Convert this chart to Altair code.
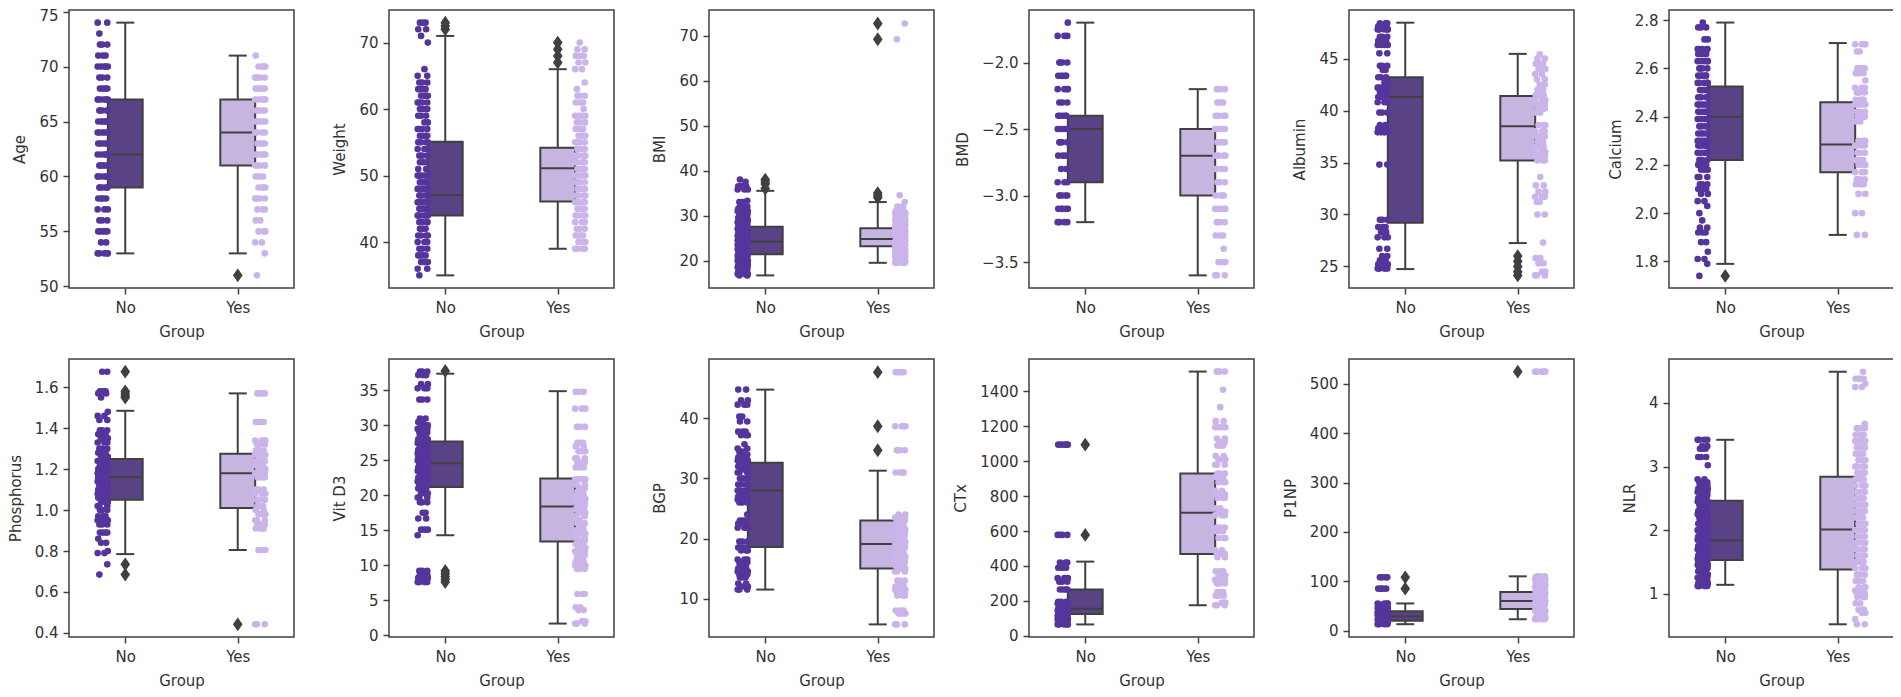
import altair as alt
import pandas as pd

GROUP_POS = {"No": 0, "Yes": 1}
FONT = "DejaVu Sans"
TEXT = "#333333"
LINE = "#404040"
FILL = {"No": "#5a4287", "Yes": "#c6b5e1"}
DOT = {"No": "#55359c", "Yes": "#cab4e9"}
JITTER = [-0.03, 0.04, -0.045, 0.015, 0.045, -0.015, 0.03, -0.04, 0.0, 0.025, -0.025, 0.04, -0.005]

age_no_v = [53,54,55,56,57,58,59,60,61,62,63,64,65,66,67,68,69,70,71,72,73,74]
age_no_c = [5,2,5,3,3,4,6,6,6,6,5,6,5,5,6,4,3,5,3,3,1,2]
age_yes_v = [51,53,54,55,56,57,58,59,60,61,62,63,64,65,66,67,68,69,70,71]
age_yes_c = [1,1,2,3,2,3,4,4,4,5,5,5,4,5,5,6,5,4,4,1]

wt_no_v = [35,36,37,38,39,40,41,42,43,44,45,46,47,48,49,50,51,52,53,54,55,56,57,58,59,60,61,62,63,64,65,66,70,71,72,73]
wt_no_c = [1,2,4,4,3,3,4,3,4,6,7,7,6,6,5,6,2,3,3,3,4,4,4,2,3,4,4,4,4,3,2,1,1,1,2,3]
wt_yes_v = [39,40,41,42,43,44,45,46,47,48,49,50,51,52,53,54,55,56,57,58,59,60,61,62,63,64,66,67,68,69,70]
wt_yes_c = [4,3,4,3,3,4,4,5,4,4,4,5,5,4,4,4,4,4,4,4,4,1,3,3,1,1,2,2,4,2,1]

bmi_no_v = [16.7,17,17.5,18,18.5,19,19.5,20,20.5,21,21.5,22,22.5,23,23.5,24,24.5,25,25.5,26,26.5,27,27.5,28,28.5,29,29.5,30,30.5,31,31.5,32,33,33.3,35.8,36.5,37.5,38]
bmi_no_c = [2,3,3,4,5,5,4,5,5,6,6,6,6,6,6,6,6,6,5,5,5,5,4,4,3,3,3,3,2,3,3,4,2,1,3,4,1,1]
bmi_yes_v = [19.5,20,20.5,21,21.5,22,22.5,23,23.5,24,24.5,25,25.5,26,26.5,27,27.5,28,28.5,29,29.5,30,30.5,31,32,33,34.5,69.2,72.7]
bmi_yes_c = [4,5,5,5,6,6,6,6,6,6,6,6,6,6,6,5,5,5,5,5,5,4,4,3,2,1,1,1,1]

bmd_no_v = [-3.2,-3.1,-3.0,-2.9,-2.8,-2.7,-2.6,-2.5,-2.4,-2.3,-2.2,-2.1,-2.0,-1.8,-1.7]
bmd_no_c = [4,5,5,3,3,3,4,5,5,3,4,5,4,3,1]
bmd_yes_v = [-3.6,-3.5,-3.4,-3.3,-3.2,-3.1,-3.0,-2.9,-2.8,-2.7,-2.6,-2.5,-2.4,-2.3,-2.2]
bmd_yes_c = [3,3,1,3,4,5,4,3,4,4,4,5,4,3,3]

alb_no_v = [24.8,25.2,25.6,26,26.7,27.8,28.3,28.8,29.5,34.8,37.9,38.3,38.6,39.8,40.8,41.3,41.8,42.2,42.7,43.2,43.9,44.3,45.5,46.3,46.7,47.1,47.8,48.1,48.4]
alb_no_c = [4,4,3,2,2,3,2,3,3,2,4,3,2,3,4,4,3,4,2,3,2,3,2,4,4,3,5,4,3]
alb_yes_v = [24.14,24.5,25.3,25.8,27.3,30,31.2,31.7,32.2,32.8,33.6,35.2,35.6,36,36.5,37,37.5,38,38.6,39.8,40.2,40.6,41,41.5,42,42.5,43,43.5,44,44.5,45,45.4]
alb_yes_c = [3,2,2,2,1,2,2,3,2,2,1,3,3,3,3,3,3,3,3,2,3,3,3,3,3,2,2,2,3,3,2,1]

ca_no_v = [1.74,1.79,1.81,1.84,1.88,1.92,1.94,1.97,2.0,2.03,2.05,2.08,2.1,2.12,2.15,2.18,2.2,2.22,2.25,2.28,2.3,2.33,2.36,2.39,2.42,2.45,2.48,2.51,2.54,2.57,2.6,2.63,2.66,2.68,2.72,2.77,2.79]
ca_no_c = [1,1,2,1,2,3,2,1,1,1,2,2,4,3,3,3,4,4,5,6,5,5,5,5,6,5,4,5,5,5,4,5,5,5,2,3,1]
ca_yes_v = [1.91,2.0,2.08,2.12,2.14,2.17,2.2,2.22,2.25,2.28,2.3,2.38,2.4,2.42,2.45,2.47,2.5,2.52,2.55,2.58,2.6,2.67,2.7]
ca_yes_c = [2,2,2,4,4,3,3,3,3,4,3,2,3,3,4,4,4,3,1,3,4,2,4]

ph_no_v = [.685,.735,.79,.8,.84,.86,.89,.93,.95,.97,1.0,1.02,1.04,1.06,1.08,1.1,1.12,1.14,1.16,1.18,1.2,1.22,1.24,1.26,1.28,1.3,1.33,1.35,1.37,1.39,1.44,1.46,1.48,1.55,1.57,1.58,1.676]
ph_no_c = [1,1,2,1,2,1,4,3,5,3,3,3,4,4,5,5,6,5,5,5,5,4,4,4,4,3,3,3,3,3,2,2,1,1,2,3,2]
ph_yes_v = [.442,.805,.91,.93,.95,.98,1.0,1.02,1.05,1.08,1.1,1.16,1.18,1.2,1.22,1.24,1.27,1.29,1.32,1.34,1.43,1.57]
ph_yes_c = [3,3,4,3,3,3,2,3,4,3,3,4,4,4,4,4,4,4,4,4,4,4]

vd_no_v = [7.6,8.2,8.6,9.2,14.3,15.1,16.7,17.5,19,19.7,20.3,21,21.5,22,22.5,23,23.5,24,24.5,25,25.5,26,26.5,27,27.5,28,28.5,29,29.5,30,30.5,31,33.7,35.3,35.9,37.2,37.7]
vd_no_c = [4,4,4,3,1,3,2,2,3,3,3,4,4,4,4,4,5,5,5,5,5,5,5,4,4,4,3,3,3,3,2,2,3,3,2,4,3]
vd_yes_v = [1.67,2,3.6,4,5.9,9.5,10,10.5,11,11.5,12,12.5,13,13.5,14,14.5,15,15.5,16,16.5,17,17.5,18,18.5,19,19.5,20,20.5,21,21.5,22.3,24,24.7,25.3,26.3,27,27.5,29.8,32.4,34.8]
vd_yes_c = [3,2,2,2,3,3,3,3,3,3,3,3,3,3,2,3,3,2,2,2,2,3,3,3,3,3,3,3,2,2,4,3,4,3,3,2,3,4,3,3]

bgp_no_v = [11.5,12,12.5,13.5,14,14.5,15,15.5,16,16.5,18,18.5,19.5,21.8,22.5,23,24,26,26.5,27,27.5,28,29,30,31,31.5,32,32.5,33,33.5,34,34.5,35,35.7,37.2,37.8,39.5,40.3,42.3,43,44.8]
bgp_no_c = [3,3,2,3,3,4,3,3,3,3,3,4,3,4,3,3,1,3,3,4,4,4,4,5,3,3,4,4,4,3,4,2,2,1,3,3,2,2,3,2,2]
bgp_yes_v = [5.7,7.5,8,10.5,11,11.5,12,12.5,13,14.5,15,15.5,16,16.5,17,17.5,18,18.5,19,19.5,20,20.5,21,21.5,22,22.5,23,23.5,24,31,34.7,38.7,47.7]
bgp_yes_c = [3,3,3,3,3,3,3,2,3,3,3,3,3,3,3,3,3,3,2,3,3,3,3,3,3,3,3,3,2,4,4,4,4]

ctx_no_v = [65,75,85,95,105,115,125,135,145,155,165,175,185,195,265,310,330,390,420,578,1095]
ctx_no_c = [5,5,5,5,5,5,4,5,4,4,4,3,3,3,4,3,3,4,3,4,5]
ctx_yes_v = [175,190,230,250,300,320,345,370,450,470,490,560,600,620,690,710,730,790,810,830,880,910,930,980,1010,1030,1090,1110,1130,1195,1230,1310,1410,1514]
ctx_yes_c = [3,2,3,3,3,3,3,3,2,3,2,3,4,3,3,3,2,3,3,2,3,3,3,3,3,2,3,2,2,4,2,1,1,4]

p1_no_v = [13,16,19,22,25,28,31,34,37,40,43,46,49,52,55,85,108]
p1_no_c = [4,4,5,5,5,5,5,5,5,5,5,5,4,4,4,4,4]
p1_yes_v = [23,26,30,34,40,44,48,52,56,60,64,68,72,76,80,84,88,92,96,100,104,108,110,525]
p1_yes_c = [4,4,4,3,3,3,3,3,3,3,3,3,3,3,3,3,4,4,4,4,4,4,3,5]

nlr_no_v = [1.12,1.16,1.2,1.25,1.3,1.35,1.4,1.45,1.5,1.55,1.6,1.65,1.7,1.75,1.8,1.85,1.9,1.95,2.0,2.05,2.1,2.15,2.2,2.25,2.3,2.35,2.4,2.45,2.5,2.55,2.6,2.65,2.7,2.75,2.8,3.02,3.15,3.28,3.32,3.42]
nlr_no_c = [4,4,4,4,4,4,4,5,5,5,5,5,4,4,4,4,4,4,4,3,3,3,3,3,3,3,3,4,4,4,4,4,4,3,2,1,3,3,2,4]
nlr_yes_v = [.52,.6,.7,.75,.85,.95,1.0,1.05,1.1,1.2,1.3,1.4,1.5,1.6,1.7,1.8,1.9,2.0,2.1,2.2,2.3,2.4,2.5,2.6,2.7,2.8,2.9,3.0,3.1,3.2,3.3,3.4,3.5,3.6,3.67,4.25,4.3,4.38,4.49]
nlr_yes_c = [2,1,2,2,2,3,3,2,3,3,4,4,4,4,4,4,4,4,4,4,4,4,4,4,4,4,4,4,3,4,4,4,4,4,1,2,1,4,1]

# box = (low whisker, q1, median, q3, high whisker)
PANELS = [
 dict(name="Age", dom=[49.85,75.15], ticks=[50,55,60,65,70,75], fmt="d", nudge=75,
      No=((53,59,62,67,74),[],age_no_v,age_no_c), Yes=((53,61,64,67,71),[51],age_yes_v,age_yes_c)),
 dict(name="Weight", dom=[33.1,74.9], ticks=[40,50,60,70], fmt="d",
      No=((35,44,47.1,55.1,71),[72,72.5,73],wt_no_v,wt_no_c), Yes=((39,46.1,51.1,54.2,66),[67,68,69,70],wt_yes_v,wt_yes_c)),
 dict(name="BMI", dom=[13.9,75.7], ticks=[20,30,40,50,60,70], fmt="d",
      No=((16.7,21.4,24.2,27.5,35.5),[36,37,37.5,38],bmi_no_v,bmi_no_c), Yes=((19.5,23.2,24.8,27.2,33),[34,34.5,35,69.2,72.7],bmi_yes_v,bmi_yes_c)),
 dict(name="BMD", dom=[-3.695,-1.605], ticks=[-3.5,-3.0,-2.5,-2.0], fmt=".1f",
      No=((-3.2,-2.9,-2.5,-2.4,-1.7),[],bmd_no_v,bmd_no_c), Yes=((-3.6,-3.0,-2.7,-2.5,-2.2),[],bmd_yes_v,bmd_yes_c)),
 dict(name="Albumin", dom=[22.93,49.67], ticks=[25,30,35,40,45], fmt="d",
      No=((24.75,29.2,41.3,43.2,48.45),[],alb_no_v,alb_no_c), Yes=((27.25,35.2,38.5,41.4,45.45),[24.14,24.5,25,25.5,26],alb_yes_v,alb_yes_c)),
 dict(name="Calcium", dom=[1.69,2.842], ticks=[1.8,2.0,2.2,2.4,2.6,2.8], fmt=".1f",
      No=((1.79,2.22,2.4,2.525,2.79),[1.74],ca_no_v,ca_no_c), Yes=((1.91,2.17,2.285,2.46,2.705),[],ca_yes_v,ca_yes_c)),
 dict(name="Phosphorus", dom=[.38,1.738], ticks=[.4,.6,.8,1.0,1.2,1.4,1.6], fmt=".1f",
      No=((.785,1.05,1.16,1.25,1.485),[1.676,1.58,1.57,1.56,1.55,.735,.685],ph_no_v,ph_no_c), Yes=((.805,1.01,1.18,1.275,1.57),[.442],ph_yes_v,ph_yes_c)),
 dict(name="Vit D3", dom=[-.25,39.5], ticks=[0,5,10,15,20,25,30,35], fmt="d",
      No=((14.3,21.2,24.6,27.7,37.4),[37.8,9.2,8.8,8.4,8,7.6],vd_no_v,vd_no_c), Yes=((1.67,13.4,18.4,22.4,34.9),[],vd_yes_v,vd_yes_c)),
 dict(name="BGP", dom=[3.6,49.9], ticks=[10,20,30,40], fmt="d",
      No=((11.5,18.6,28,32.6,44.8),[],bgp_no_v,bgp_no_c), Yes=((5.7,15,19.1,23,31.3),[34.7,38.7,47.7],bgp_yes_v,bgp_yes_c)),
 dict(name="CTx", dom=[-7,1586], ticks=[0,200,400,600,800,1000,1200,1400], fmt="d",
      No=((65,125,155,265,425),[578,1095],ctx_no_v,ctx_no_c), Yes=((175,468,705,930,1514),[],ctx_yes_v,ctx_yes_c)),
 dict(name="P1NP", dom=[-13,550.6], ticks=[0,100,200,300,400,500], fmt="d",
      No=((13,20,29,39,55),[85,108],p1_no_v,p1_no_c), Yes=((23,44,60,78,110),[525],p1_yes_v,p1_yes_c)),
 dict(name="NLR", dom=[.32,4.69], ticks=[1,2,3,4], fmt="d",
      No=((1.14,1.53,1.84,2.46,3.42),[],nlr_no_v,nlr_no_c), Yes=((.52,1.38,2.01,2.84,4.49),[],nlr_yes_v,nlr_yes_c)),
]

BOX_HALF = 0.155
CAP_HALF = 0.08
DOT_SHIFT = 0.2


def panel(p):
    boxes, outs, dots = [], [], []
    for g, side in (("No", -1), ("Yes", 1)):
        (lo, q1, med, q3, hi), outliers, levels, counts = p[g]
        x = GROUP_POS[g]
        boxes.append(dict(g=g, x=x, l=x - BOX_HALF, r=x + BOX_HALF, cl=x - CAP_HALF, cr=x + CAP_HALF,
                          lo=lo, q1=q1, med=med, q3=q3, hi=hi))
        outs += [dict(x=x, v=v) for v in outliers]
        i = 0
        for v, c in zip(levels, counts):
            for _ in range(c):
                dots.append(dict(g=g, x=x + side * DOT_SHIFT + JITTER[i % len(JITTER)], v=v))
                i += 1
    boxes, outs, dots = pd.DataFrame(boxes), pd.DataFrame(outs, columns=["x", "v"]), pd.DataFrame(dots)

    xs = alt.Scale(domain=[-0.5, 1.5], nice=False, zero=False)
    ys = alt.Scale(domain=p["dom"], nice=False, zero=False)
    xax = alt.Axis(values=[0, 1], labelExpr="datum.value == 0 ? 'No' : 'Yes'", labelAngle=0,
                   grid=False, domain=False)
    yargs = dict(values=p["ticks"], format=p["fmt"], grid=False, domain=False)
    if "nudge" in p:
        yargs["labelOffset"] = {"condition": {"test": f"datum.value == {p['nudge']}", "value": 4}, "value": 0}
    yax = alt.Axis(**yargs)
    xq = lambda f: alt.X(f"{f}:Q", scale=xs, axis=xax, title="Group")
    yq = lambda f: alt.Y(f"{f}:Q", scale=ys, axis=yax, title=p["name"])
    colors = alt.Scale(domain=["No", "Yes"], range=[FILL["No"], FILL["Yes"]])
    dcolors = alt.Scale(domain=["No", "Yes"], range=[DOT["No"], DOT["Yes"]])

    base = alt.Chart(boxes)
    whisk_lo = base.mark_rule(color=LINE, strokeWidth=2).encode(x=xq("x"), y=yq("lo"), y2="q1:Q")
    whisk_hi = base.mark_rule(color=LINE, strokeWidth=2).encode(x=xq("x"), y=yq("q3"), y2="hi:Q")
    cap_lo = base.mark_rule(color=LINE, strokeWidth=2).encode(x=xq("cl"), x2="cr:Q", y=yq("lo"))
    cap_hi = base.mark_rule(color=LINE, strokeWidth=2).encode(x=xq("cl"), x2="cr:Q", y=yq("hi"))
    box = base.mark_rect(stroke=LINE, strokeWidth=2).encode(
        x=xq("l"), x2="r:Q", y=yq("q1"), y2="q3:Q",
        color=alt.Color("g:N", scale=colors, legend=None))
    median = base.mark_rule(color=LINE, strokeWidth=2).encode(x=xq("l"), x2="r:Q", y=yq("med"))
    layers = [whisk_lo, whisk_hi, cap_lo, cap_hi, box, median]
    if len(outs):
        layers.append(alt.Chart(outs).mark_point(
            shape="M0,-1L0.7,0L0,1L-0.7,0Z", filled=True, color=LINE, opacity=1, size=190
        ).encode(x=xq("x"), y=yq("v")))
    strip = alt.Chart(dots).mark_circle(size=44, opacity=1).encode(
        x=xq("x"), y=yq("v"), color=alt.Color("g:N", scale=dcolors, legend=None))
    layers.append(strip)
    return alt.layer(*layers).resolve_scale(color="independent").properties(width=225, height=278)


chart = alt.concat(*[panel(p) for p in PANELS], columns=6).properties(
    spacing=alt.RowColnumber(row=71, column=95),
    bounds="flush",
    autosize=alt.AutoSizeParams(type="none"),
    padding={"left": 61, "top": 2, "right": 1824, "bottom": 679},
).configure_view(stroke="#404040", strokeWidth=1.5).configure_axis(
    labelFont=FONT, titleFont=FONT, labelFontSize=15, titleFontSize=15,
    labelColor=TEXT, titleColor=TEXT, titleFontWeight="normal",
    tickColor=LINE, tickSize=6, tickWidth=1.5, labelPadding=5,
).configure_axisX(titlePadding=9, labelPadding=6).configure_axisY(titlePadding=11)

chart.save("out.html", embed_options={"renderer": "svg", "actions": False})
